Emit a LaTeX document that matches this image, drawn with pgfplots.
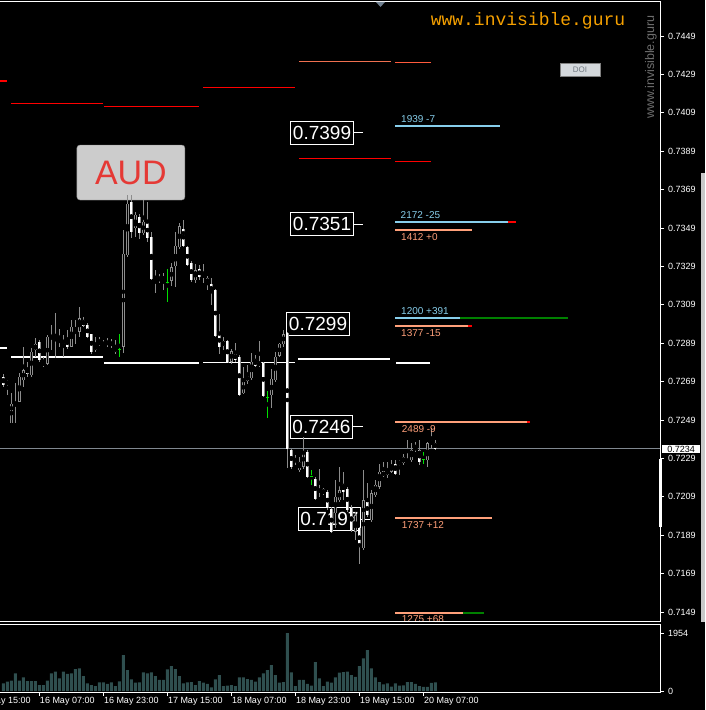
\documentclass[border=0pt]{standalone}
\usepackage{pgfplots}
\pgfplotsset{compat=1.18}
\usepackage{pgfplotstable}
\usepackage{fontspec}
\setmainfont{Liberation Sans}
\newfontfamily\monof{Liberation Mono}
\definecolor{wickc}{HTML}{8C8C8C}
\definecolor{dojic}{HTML}{00E000}
\definecolor{volc}{HTML}{2F4F4F}
\definecolor{skyc}{HTML}{87CEEB}
\definecolor{salc}{HTML}{FFA07A}
\definecolor{grn}{HTML}{008000}
\definecolor{coralc}{HTML}{F07050}
\definecolor{tomc}{HTML}{FF5A3C}
\definecolor{curc}{HTML}{808890}
\definecolor{orangec}{HTML}{F5A000}
\definecolor{wmc}{HTML}{6E6E6E}
\definecolor{doifill}{HTML}{D4D8DC}
\definecolor{doitext}{HTML}{707880}
\definecolor{audfill}{HTML}{CCCCCC}
\definecolor{audred}{HTML}{E53935}
\definecolor{stripc}{HTML}{C8C8C8}
\definecolor{tric}{HTML}{708090}

\pgfplotstableread{
i O H L C
2 0.72476 0.72629 0.72473 0.72577
4 0.72586 0.72733 0.72586 0.72716
5 0.72698 0.72872 0.72664 0.72751
7 0.72725 0.72863 0.72716 0.72846
8 0.72855 0.72916 0.72820 0.72889
11 0.72785 0.72933 0.72777 0.72924
15 0.72889 0.72933 0.72820 0.72907
17 0.72872 0.73011 0.72872 0.72976
19 0.72950 0.73080 0.72924 0.73020
23 0.72855 0.72924 0.72846 0.72881
26 0.72886 0.72916 0.72872 0.72898
30 0.72872 0.73480 0.72837 0.73358
31 0.73349 0.73662 0.73341 0.73618
33 0.73488 0.73575 0.73445 0.73558
35 0.73462 0.73636 0.73454 0.73523
39 0.73219 0.73254 0.73202 0.73231
42 0.73216 0.73306 0.73188 0.73285
43 0.73292 0.73471 0.73184 0.73398
44 0.73393 0.73518 0.73384 0.73500
48 0.73219 0.73306 0.73202 0.73271
55 0.72877 0.72924 0.72855 0.72902
57 0.72794 0.72863 0.72785 0.72849
60 0.72629 0.72768 0.72629 0.72690
61 0.72695 0.72777 0.72681 0.72719
62 0.72707 0.72841 0.72698 0.72794
67 0.72620 0.72759 0.72556 0.72707
68 0.72698 0.72846 0.72690 0.72820
69 0.72825 0.72893 0.72820 0.72886
70 0.72886 0.72959 0.72872 0.72938
73 0.72273 0.72308 0.72256 0.72290
74 0.72230 0.72299 0.72221 0.72273
75 0.72247 0.72403 0.72238 0.72325
83 0.72004 0.72178 0.71926 0.72091
84 0.72073 0.72247 0.72065 0.72125
88 0.71908 0.72013 0.71865 0.71995
90 0.71822 0.72230 0.71813 0.72073
92 0.71969 0.72125 0.71961 0.72108
93 0.72099 0.72178 0.72091 0.72152
94 0.72143 0.72264 0.72134 0.72221
96 0.72204 0.72273 0.72186 0.72230
97 0.72221 0.72282 0.72216 0.72256
99 0.72264 0.72282 0.72204 0.72273
100 0.72264 0.72316 0.72256 0.72296
102 0.72282 0.72369 0.72273 0.72334
103 0.72337 0.72377 0.72325 0.72351
106 0.72282 0.72377 0.72247 0.72369
}\bull

\pgfplotstableread{
i O H L C
0 0.72716 0.72733 0.72664 0.72672
1 0.72690 0.72698 0.72620 0.72678
3 0.72577 0.72681 0.72473 0.72565
6 0.72759 0.72794 0.72716 0.72733
9 0.72898 0.72907 0.72794 0.72803
10 0.72794 0.72820 0.72768 0.72777
12 0.72933 0.72985 0.72855 0.72916
13 0.72916 0.73046 0.72811 0.72907
14 0.72907 0.72967 0.72872 0.72898
16 0.72916 0.72959 0.72863 0.72872
18 0.72967 0.73011 0.72889 0.72959
20 0.73011 0.73028 0.72976 0.72981
21 0.72985 0.72994 0.72916 0.72924
22 0.72938 0.72941 0.72837 0.72846
24 0.72898 0.72924 0.72877 0.72886
25 0.72889 0.72907 0.72872 0.72877
27 0.72893 0.72912 0.72863 0.72881
28 0.72867 0.72907 0.72837 0.72846
32 0.73627 0.73662 0.73436 0.73471
34 0.73549 0.73566 0.73436 0.73462
36 0.73523 0.73627 0.73419 0.73436
37 0.73445 0.73471 0.73219 0.73228
38 0.73237 0.73271 0.73150 0.73224
40 0.73237 0.73254 0.73167 0.73219
45 0.73488 0.73535 0.73393 0.73398
46 0.73389 0.73396 0.73292 0.73297
47 0.73306 0.73318 0.73211 0.73219
49 0.73275 0.73297 0.73219 0.73237
50 0.73249 0.73306 0.73202 0.73237
51 0.73228 0.73240 0.73167 0.73205
52 0.73197 0.73231 0.73089 0.73155
53 0.73167 0.73171 0.72924 0.72928
54 0.72938 0.73046 0.72837 0.72872
56 0.72900 0.72907 0.72789 0.72789
58 0.72837 0.72889 0.72794 0.72803
59 0.72820 0.72829 0.72615 0.72620
63 0.72806 0.72829 0.72768 0.72773
64 0.72794 0.72903 0.72768 0.72777
65 0.72789 0.72794 0.72612 0.72617
71 0.72945 0.72950 0.72238 0.72342
72 0.72334 0.72342 0.72238 0.72247
76 0.72325 0.72334 0.72191 0.72195
78 0.72186 0.72195 0.72073 0.72082
79 0.72129 0.72238 0.72091 0.72117
80 0.72129 0.72134 0.72099 0.72108
81 0.72117 0.72125 0.72021 0.72030
82 0.72030 0.72039 0.71903 0.71908
85 0.72160 0.72221 0.72073 0.72117
86 0.72134 0.72143 0.72013 0.72021
87 0.72030 0.72047 0.71908 0.71917
89 0.71926 0.71935 0.71744 0.71830
91 0.72065 0.72160 0.71987 0.71995
95 0.72226 0.72273 0.72195 0.72198
98 0.72264 0.72282 0.72204 0.72212
101 0.72285 0.72386 0.72273 0.72273
104 0.72334 0.72386 0.72256 0.72273
107 0.72377 0.72447 0.72342 0.72369
108 0.72372 0.72386 0.72334 0.72342
}\bear

\pgfplotstableread{
i O H L C
29 0.72858 0.72936 0.72816 0.72858
41 0.73205 0.73275 0.73106 0.73205
66 0.72608 0.72643 0.72499 0.72608
77 0.72195 0.72230 0.72152 0.72195
105 0.72282 0.72325 0.72264 0.72282
}\doji

\pgfplotstableread{
i v
0 258
1 314
2 348
3 595
4 348
5 460
6 337
7 337
8 337
9 202
10 202
11 348
12 595
13 651
14 427
15 651
16 573
17 595
18 741
19 764
20 505
21 258
22 202
23 168
24 292
25 292
26 236
27 292
28 168
29 326
30 1213
31 707
32 393
33 281
34 292
35 629
36 595
37 629
38 505
39 371
40 371
41 730
42 842
43 741
44 505
45 258
46 292
47 303
48 202
49 337
50 281
51 236
52 124
53 393
54 539
55 168
56 180
57 202
58 168
59 460
60 460
61 404
62 371
63 314
64 460
65 595
66 707
67 876
68 539
69 281
70 303
71 1954
72 629
73 168
74 371
75 371
76 236
77 180
78 977
79 427
80 168
81 314
82 281
83 460
84 618
85 640
86 651
87 539
88 472
89 842
90 1101
91 1381
92 764
93 460
94 303
95 225
96 258
97 146
98 258
99 180
100 191
101 303
102 303
103 236
104 168
105 135
106 135
107 270
108 292
}\vol

\begin{document}
\begin{tikzpicture}
\useasboundingbox (0,0) rectangle (705pt,710pt);
\fill[black] (0,0) rectangle (705pt,710pt);
\fill[stripc] (701pt,88pt) rectangle (705pt,537pt);

\begin{axis}[
  at={(0pt,88pt)}, anchor=south west,
  width=660pt, height=620pt, scale only axis,
  xmin=-0.825, xmax=164.175,
  ymin=0.714379, ymax=0.746671,
  axis line style={draw=none},
  clip=false,
  xtick=\empty,
  ytick={0.7149,0.7169,0.7189,0.7209,0.7229,0.7249,0.7269,0.7289,0.7309,0.7329,0.7349,0.7369,0.7389,0.7409,0.7429,0.7449},
  scaled y ticks=false,
  ytick pos=right, yticklabel pos=right,
  tick align=outside, major tick length=4pt,
  tick style={white, line width=0.6pt},
  yticklabel style={font=\fontsize{9}{10}\selectfont, text=white, xshift=0.5pt,
    /pgf/number format/fixed, /pgf/number format/fixed zerofill,
    /pgf/number format/precision=4, /pgf/number format/assume math mode=true},
]
% current price line
\addplot[curc, line width=0.8pt] coordinates {(-0.825,0.7234) (164.175,0.7234)};
% pivot (white) lines
\addplot[white, line width=1.5pt] coordinates {(-0.825,0.72864) (0.925,0.72864)};
\addplot[white, line width=1.5pt] coordinates {(1.925,0.72818) (24.925,0.72818)};
\addplot[white, line width=1.5pt] coordinates {(25.175,0.72787) (48.925,0.72787)};
\addplot[white, line width=1.5pt] coordinates {(49.925,0.72790) (72.925,0.72790)};
\addplot[white, line width=1.5pt] coordinates {(73.675,0.72808) (96.675,0.72808)};
\addplot[white, line width=1.5pt] coordinates {(98.175,0.72787) (106.675,0.72787)};
% red lines
\addplot[red, line width=1.5pt] coordinates {(-0.825,0.74256) (0.925,0.74256)};
\addplot[red, line width=1.5pt] coordinates {(1.925,0.74139) (24.925,0.74139)};
\addplot[red, line width=1.5pt] coordinates {(25.175,0.74124) (48.925,0.74124)};
\addplot[red, line width=1.5pt] coordinates {(49.925,0.74223) (72.925,0.74223)};
\addplot[red, line width=1.5pt] coordinates {(73.925,0.73853) (96.925,0.73853)};
\addplot[red, line width=1.5pt] coordinates {(97.925,0.73837) (106.925,0.73837)};
\addplot[coralc, line width=1.5pt] coordinates {(73.925,0.74358) (96.925,0.74358)};
\addplot[tomc, line width=1.5pt] coordinates {(97.925,0.74353) (106.925,0.74353)};
% order lines
\addplot[skyc, line width=2pt] coordinates {(97.925,0.74023) (124.175,0.74023)};
\addplot[skyc, line width=2pt] coordinates {(97.925,0.73521) (126.175,0.73521)};
\addplot[red, line width=2pt] coordinates {(126.175,0.73521) (128.175,0.73521)};
\addplot[salc, line width=2pt] coordinates {(97.925,0.73480) (117.175,0.73480)};
\addplot[skyc, line width=2pt] coordinates {(97.925,0.73021) (114.175,0.73021)};
\addplot[grn, line width=2pt] coordinates {(114.175,0.73021) (141.175,0.73021)};
\addplot[salc, line width=2pt] coordinates {(97.925,0.72980) (116.175,0.72980)};
\addplot[red, line width=2pt] coordinates {(116.175,0.72980) (117.175,0.72980)};
\addplot[salc, line width=2pt] coordinates {(97.925,0.72480) (130.925,0.72480)};
\addplot[red, line width=2pt] coordinates {(130.925,0.72480) (131.675,0.72480)};
\addplot[salc, line width=2pt] coordinates {(97.925,0.71980) (122.175,0.71980)};
\addplot[salc, line width=2pt] coordinates {(97.925,0.71485) (114.925,0.71485)};
\addplot[grn, line width=2pt] coordinates {(114.925,0.71485) (120.175,0.71485)};
% box connector lines
\addplot[white, line width=1pt] coordinates {(87.4,0.73985) (89.9,0.73985)};
\addplot[white, line width=1pt] coordinates {(87.4,0.73510) (89.9,0.73510)};
\addplot[white, line width=1pt] coordinates {(87.4,0.72454) (89.9,0.72454)};
\addplot[white, line width=1pt] coordinates {(89.4,0.71974) (91.9,0.71974)};
% price boxes
\begin{scope}[every node/.style={draw=white, line width=1pt, fill=black, text=white, font=\fontsize{19}{21}\selectfont, inner xsep=2pt, inner ysep=4.5pt}]
\node at (axis cs:79.68,0.73985) {0.7399};
\node at (axis cs:79.68,0.73510) {0.7351};
\node at (axis cs:78.68,0.72990) {0.7299};
\node at (axis cs:79.55,0.72454) {0.7246};
\node at (axis cs:81.55,0.71974) {0.7197};
\end{scope}
% AUD box
\node[draw=gray, fill=audfill, rounded corners=3pt, minimum width=108pt, minimum height=55pt, text=audred, font=\fontsize{34}{36}\selectfont] at (axis cs:31.9,0.73779) {AUD};
% wicks
\addplot[only marks, mark=none, error bars/.cd, y dir=both, y explicit, error mark=none, error bar style={line width=1pt, color=wickc}]
  table[x=i, y expr={(\thisrow{H}+\thisrow{L})/2}, y error expr={(\thisrow{H}-\thisrow{L})/2}] {\bull};
\addplot[only marks, mark=none, error bars/.cd, y dir=both, y explicit, error mark=none, error bar style={line width=1pt, color=wickc}]
  table[x=i, y expr={(\thisrow{H}+\thisrow{L})/2}, y error expr={(\thisrow{H}-\thisrow{L})/2}] {\bear};
\addplot[only marks, mark=none, error bars/.cd, y dir=both, y explicit, error mark=none, error bar style={line width=1pt, color=dojic}]
  table[x=i, y expr={(\thisrow{H}+\thisrow{L})/2}, y error expr={(\thisrow{H}-\thisrow{L})/2}] {\doji};
% bodies
\addplot[only marks, mark=none, error bars/.cd, y dir=both, y explicit, error mark=none, error bar style={line width=3pt, color=wickc}]
  table[x=i, y expr={(\thisrow{O}+\thisrow{C})/2}, y error expr={abs(\thisrow{C}-\thisrow{O})/2}] {\bull};
\addplot[only marks, mark=none, error bars/.cd, y dir=both, y explicit, error mark=none, error bar style={line width=1pt, color=black}]
  table[x=i, y expr={(\thisrow{O}+\thisrow{C})/2}, y error expr={abs(\thisrow{C}-\thisrow{O})/2-0.00002}] {\bull};
\addplot[only marks, mark=none, error bars/.cd, y dir=both, y explicit, error mark=none, error bar style={line width=3pt, color=wickc}]
  table[x=i, y expr={(\thisrow{O}+\thisrow{C})/2}, y error expr={abs(\thisrow{C}-\thisrow{O})/2}] {\bear};
\addplot[only marks, mark=none, error bars/.cd, y dir=both, y explicit, error mark=none, error bar style={line width=1.8pt, color=white}]
  table[x=i, y expr={(\thisrow{O}+\thisrow{C})/2}, y error expr={abs(\thisrow{C}-\thisrow{O})/2}] {\bear};
\addplot[only marks, mark=-, mark size=1.6pt, color=dojic, mark options={line width=1pt}] table[x=i, y=C] {\doji};
% order labels
\begin{scope}[every node/.style={anchor=west, inner sep=0pt, font=\fontsize{10}{11}\selectfont}]
\node[text=skyc] at (axis cs:99.43,0.74058) {1939 -7};
\node[text=skyc] at (axis cs:99.3,0.73558) {2172 -25};
\node[text=salc] at (axis cs:99.43,0.73445) {1412 +0};
\node[text=skyc] at (axis cs:99.43,0.73058) {1200 +391};
\node[text=salc] at (axis cs:99.43,0.72945) {1377 -15};
\node[text=salc] at (axis cs:99.6,0.72442) {2489 -9};
\node[text=salc] at (axis cs:99.6,0.71943) {1737 +12};
\node[text=salc] at (axis cs:99.6,0.71453) {1275 +68};
\end{scope}
% frame
\draw[white, line width=1pt] (rel axis cs:0,1) -- (rel axis cs:1,1) -- (rel axis cs:1,0) -- (rel axis cs:0,0);
\end{axis}

\begin{axis}[
  at={(0pt,18pt)}, anchor=south west,
  width=660pt, height=67.5pt, scale only axis,
  xmin=-0.825, xmax=164.175,
  ymin=-33.7, ymax=2241,
  axis line style={draw=none},
  clip=false,
  xtick={9,25,41,57,73,89,105},
  xticklabels={16 May 07:00,16 May 23:00,17 May 15:00,18 May 07:00,18 May 23:00,19 May 15:00,20 May 07:00},
  xtick pos=bottom,
  ytick={0,1954}, yticklabels={0,1954},
  ytick pos=right, yticklabel pos=right,
  tick align=outside, major tick length=4pt,
  tick style={white, line width=0.6pt},
  xticklabel style={font=\fontsize{9}{10}\selectfont, text=white, anchor=north west, inner sep=0pt, xshift=0.5pt, yshift=-1pt},
  yticklabel style={font=\fontsize{9}{10}\selectfont, text=white, xshift=0.5pt},
]
\addplot[ybar, bar width=3pt, fill=volc, draw=none] table[x=i, y=v] {\vol};
\draw[white, line width=1pt] (rel axis cs:0,1) -- (rel axis cs:1,1) -- (rel axis cs:1,0) -- (rel axis cs:0,0);
\node[anchor=north west, inner sep=0pt, text=white, font=\fontsize{9}{10}\selectfont, xshift=0.5pt, yshift=-5pt] at (axis cs:-7,-33.7) {15 May 15:00};
\end{axis}

% decorations
\node[text=orangec, font=\monof\fontsize{18}{20}\selectfont] at (528pt,689pt) {www.invisible.guru};
\node[rotate=90, text=wmc, font=\fontsize{12.5}{14}\selectfont] at (651pt,643pt) {www.invisible.guru};
\node[draw=gray, fill=doifill, text=doitext, minimum width=40pt, minimum height=13pt, inner sep=0pt, font=\fontsize{8}{9}\selectfont] at (580pt,640.7pt) {DOI};
\fill[tric] (376pt,708pt) -- (385pt,708pt) -- (380.5pt,703pt) -- cycle;
\fill[white] (658.5pt,183pt) rectangle (661.5pt,251pt);
\node[fill=white, text=black, anchor=west, inner sep=1pt, minimum width=38pt, font=\fontsize{9}{10}\selectfont] at (662pt,261pt) {0.7234};
\end{tikzpicture}
\end{document}
